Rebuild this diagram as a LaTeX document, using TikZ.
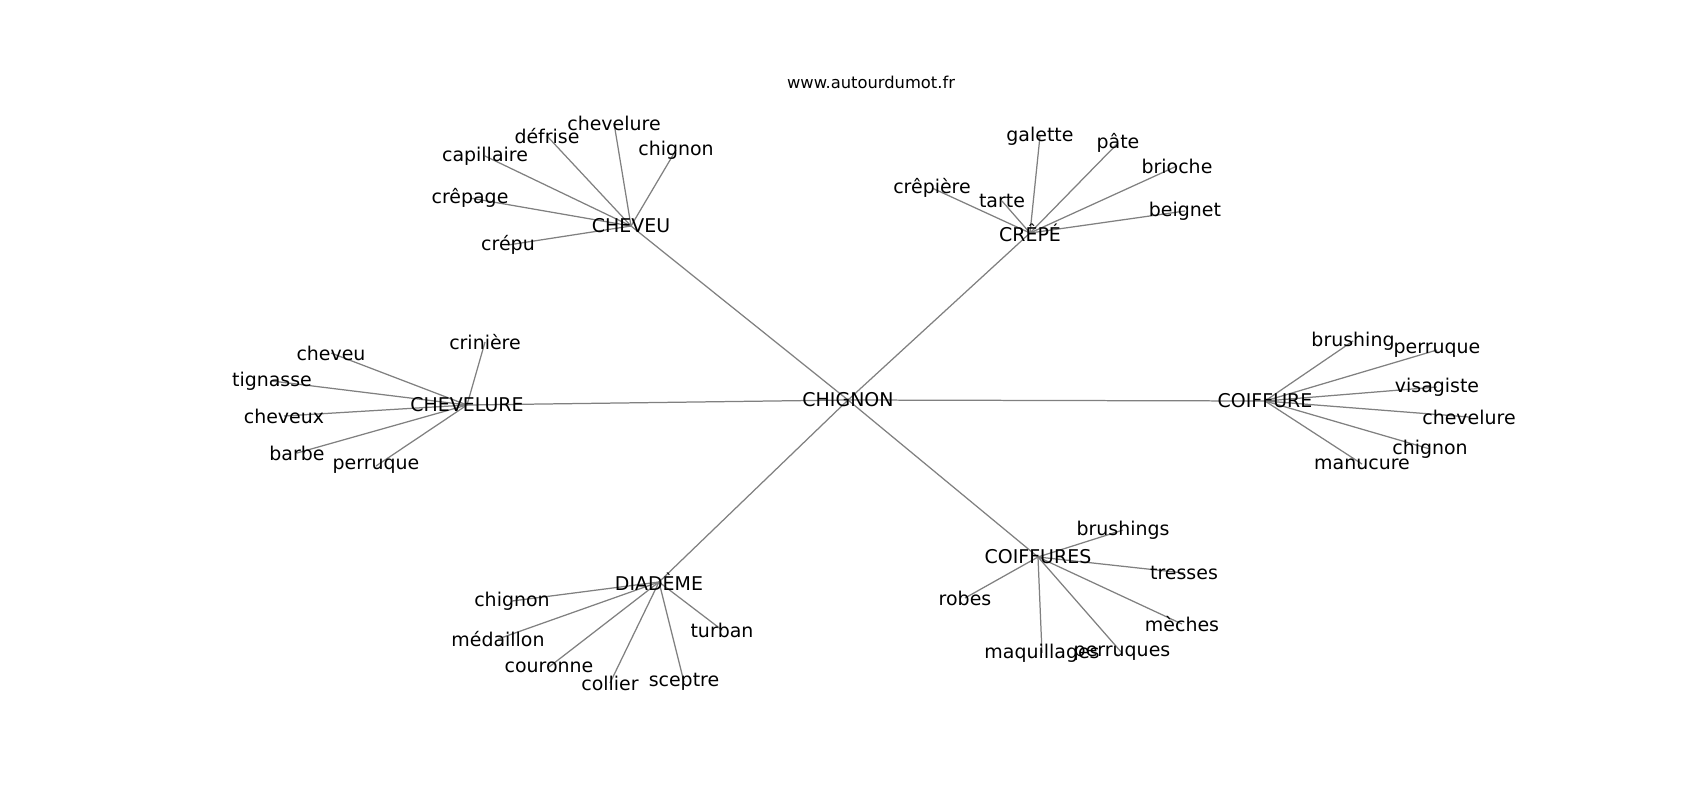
\documentclass[tikz,border=0pt]{standalone}
\usepackage{fontspec}
\setmainfont{DejaVu Sans}
\usetikzlibrary{backgrounds}
\tikzset{
  word/.style={inner sep=0pt, font=\fontsize{13.7}{16}\selectfont},
  link/.style={gray, line width=0.9pt},
}
\begin{document}
\begin{tikzpicture}[x=0.254mm, y=-0.254mm]
	\useasboundingbox (0,0) rectangle (1700,800);
	\node[font=\fontsize{11.8}{14}\selectfont] (site) at (871,82) {www.autourdumot.fr};

	\node[word] (chignon) at (848,400) {CHIGNON};

	% CHEVEU
	\node[word] (cheveu) at (631,226) {CHEVEU};
	\node[word] (cv-chevelure) at (614,123) {chevelure};
	\node[word] (cv-defrise) at (547,136) {défrise};
	\node[word] (cv-chignon) at (676,150) {chignon};
	\node[word] (cv-capillaire) at (485,156) {capillaire};
	\node[word] (cv-crepage) at (470,198) {crêpage};
	\node[word] (cv-crepu) at (508,245) {crépu};

	% CREPE
	\node[word] (crepe) at (1030,233) {CRÊPÉ};
	\node[word] (cr-galette) at (1040,136) {galette};
	\node[word] (cr-pate) at (1118,143) {pâte};
	\node[word] (cr-brioche) at (1177,166) {brioche};
	\node[word] (cr-beignet) at (1185,211) {beignet};
	\node[word] (cr-crepiere) at (932,188) {crêpière};
	\node[word] (cr-tarte) at (1002,201) {tarte};

	% CHEVELURE
	\node[word] (chevelure) at (467,405) {CHEVELURE};
	\node[word] (cl-criniere) at (485,342) {crinière};
	\node[word] (cl-cheveu) at (331,353) {cheveu};
	\node[word] (cl-tignasse) at (272,381) {tignasse};
	\node[word] (cl-cheveux) at (284,416) {cheveux};
	\node[word] (cl-barbe) at (297,453) {barbe};
	\node[word] (cl-perruque) at (376,466) {perruque};

	% COIFFURE
	\node[word] (coiffure) at (1265,401) {COIFFURE};
	\node[word] (cf-brushing) at (1353,341) {brushing};
	\node[word] (cf-perruque) at (1437,350) {perruque};
	\node[word] (cf-visagiste) at (1437,387) {visagiste};
	\node[word] (cf-chevelure) at (1469,417) {chevelure};
	\node[word] (cf-chignon) at (1430,449) {chignon};
	\node[word] (cf-manucure) at (1362,464) {manucure};

	% DIADEME
	\node[word] (diademe) at (659,582) {DIADÈME};
	\node[word] (di-chignon) at (512,601) {chignon};
	\node[word] (di-medaillon) at (498,639) {médaillon};
	\node[word] (di-couronne) at (549,667) {couronne};
	\node[word] (di-collier) at (610,683) {collier};
	\node[word] (di-sceptre) at (684,682) {sceptre};
	\node[word] (di-turban) at (722,630) {turban};

	% COIFFURES
	\node[word] (coiffures) at (1038,557) {COIFFURES};
	\node[word] (cs-brushings) at (1123,530) {brushings};
	\node[word] (cs-tresses) at (1184,573) {tresses};
	\node[word] (cs-robes) at (965,598) {robes};
	\node[word] (cs-meches) at (1182,624) {mèches};
	\node[word] (cs-maquillages) at (1042,653) {maquillages};
	\node[word] (cs-perruques) at (1122,653) {perruques};

	\begin{pgfonlayer}{background}
		\foreach \b in {cheveu, crepe, chevelure, coiffure, diademe, coiffures}
			\draw[link] (chignon.center) -- (\b.center);
		\foreach \b in {chevelure, defrise, chignon, capillaire, crepage, crepu}
			\draw[link] (cheveu.center) -- (cv-\b.center);
		\foreach \b in {galette, pate, brioche, beignet, crepiere, tarte}
			\draw[link] (crepe.center) -- (cr-\b.center);
		\foreach \b in {criniere, cheveu, tignasse, cheveux, barbe, perruque}
			\draw[link] (chevelure.center) -- (cl-\b.center);
		\foreach \b in {brushing, perruque, visagiste, chevelure, chignon, manucure}
			\draw[link] (coiffure.center) -- (cf-\b.center);
		\foreach \b in {chignon, medaillon, couronne, collier, sceptre, turban}
			\draw[link] (diademe.center) -- (di-\b.center);
		\foreach \b in {brushings, tresses, robes, meches, maquillages, perruques}
			\draw[link] (coiffures.center) -- (cs-\b.center);
	\end{pgfonlayer}
\end{tikzpicture}
\end{document}
